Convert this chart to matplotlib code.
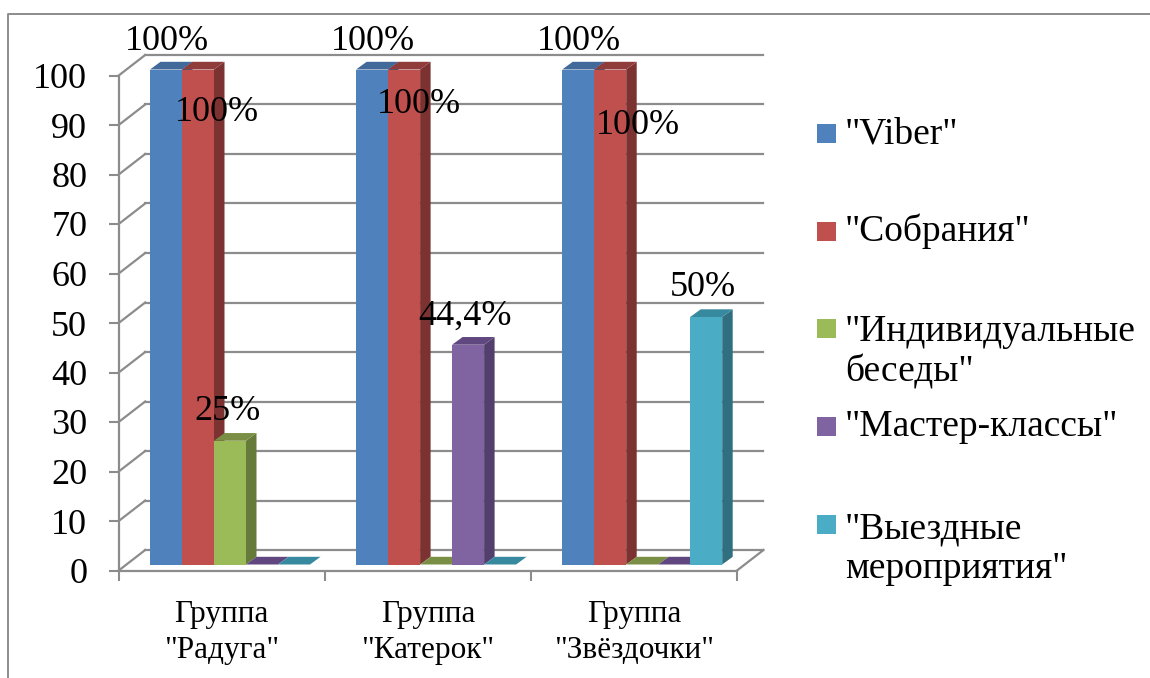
import matplotlib
matplotlib.use("Agg")
import matplotlib.pyplot as plt
from matplotlib.lines import Line2D
from matplotlib.patches import Polygon, Rectangle

plt.rcParams['font.family'] = ['Liberation Serif', 'DejaVu Sans']

# ---- data ----
groups = ['Группа\n"Радуга"', 'Группа\n"Катерок"', 'Группа\n"Звёздочки"']
series_names = ['"Viber"', '"Собрания"', '"Индивидуальные\nбеседы"', '"Мастер-классы"', '"Выездные\nмероприятия"']
viber = [100, 100, 100]
meetings = [100, 100, 100]
talks = [25, 0, 0]
workshops = [0, 44.4, 0]
trips = [0, 0, 50]
series_values = [viber, meetings, talks, workshops, trips]
value_labels = [['100%', '100%', '100%'],
                ['100%', '100%', '100%'],
                ['25%', '', ''],
                ['', '44,4%', ''],
                ['', '', '50%']]
y_ticks = list(range(0, 101, 10))

# ---- style ----
W, H = 1150, 678
front = ['#4F81BD', '#C0504D', '#9BBB59', '#8064A2', '#4BACC6']
side = ['#3A5F8C', '#7B3230', '#667A3A', '#533F6D', '#2F6F80']
top = ['#41699A', '#8F3C3A', '#7A8F45', '#60477F', '#37899F']
grid = '#8C8C8C'
AX_L, AX_R, AX_T, AX_B = 118.7, 737, 75.5, 570.5
BAR0, BAR_W = 150 - AX_L, 32            # px inside each group
BASE_PX = 6                             # gap between front axis and bar base
DEPTH_X, DEPTH_Y = 10.5, 7.7            # bar depth, px
WALL_X, WALL_Y = 26.5, 20.5             # wall depth, px
# label offsets (px from top-centre of each bar), by series then group
label_offsets = [[(1, 28), (1, 28), (1, 28)],
                 [(19, -43), (15, -35), (28, -56)],
                 [(-2, 29), (0, 0), (0, 0)],
                 [(0, 0), (-3, 28), (0, 0)],
                 [(0, 0), (0, 0), (-3, 29)]]
legend_y = [134, 231, 352, 427, 549]
legend_box_y = [133.5, 231.5, 328.5, 426.5, 524.5]

fig = plt.figure(figsize=(W / 100, H / 100), dpi=100)
ax = fig.add_axes([AX_L / W, 1 - AX_B / H, (AX_R - AX_L) / W, (AX_B - AX_T) / H])
ax.set_xlim(0, len(groups))
ax.set_ylim(0, 100)
ux = (AX_R - AX_L) / len(groups)
uy = (AX_B - AX_T) / 100
ax.patch.set_visible(False)
for s in ('top', 'right'):
    ax.spines[s].set_visible(False)
for s in ('left', 'bottom'):
    ax.spines[s].set_color(grid)
    ax.spines[s].set_linewidth(1.6)

ax.set_yticks(y_ticks)
ax.tick_params(axis='y', length=7.2, width=1.5, color=grid, labelsize=26, pad=15.5)
ax.set_xticks(range(len(groups) + 1))
ax.set_xticklabels([])
ax.tick_params(axis='x', which='major', length=7.2, width=1.5, color=grid)
ax.set_xticks([i + 0.5 for i in range(len(groups))], minor=True)
ax.set_xticklabels(groups, minor=True, fontsize=22.5, linespacing=1.32)
ax.tick_params(axis='x', which='minor', length=0, pad=21)

# back wall gridlines and left-wall diagonals
wx, wy = WALL_X / ux, WALL_Y / uy
for t in y_ticks:
    ax.plot([wx, len(groups) + wx], [t + wy, t + wy], color=grid, lw=1.6, clip_on=False, zorder=1)
    ax.plot([0, wx], [t, t + wy], color=grid, lw=1.6, clip_on=False, zorder=1)
ax.plot([len(groups), len(groups) + wx], [0, wy], color=grid, lw=1.6, clip_on=False, zorder=1)

# 3D bars
dx, dy = DEPTH_X / ux, DEPTH_Y / uy
base = BASE_PX / uy
bw = BAR_W / ux
for g in range(len(groups)):
    for i, vals in enumerate(series_values):
        v = vals[g]
        x0 = g + BAR0 / ux + i * bw
        x1 = x0 + bw
        yt = base + v
        z = 3 + g + i * 0.1
        if v > 0:
            ax.add_patch(Rectangle((x0, base), bw, v, fc=front[i], ec='none', zorder=z, clip_on=False))
            ax.add_patch(Polygon([(x1, base), (x1 + dx, base + dy), (x1 + dx, yt + dy), (x1, yt)],
                                 fc=side[i], ec='none', zorder=z, clip_on=False))
        ax.add_patch(Polygon([(x0, yt), (x1, yt), (x1 + dx, yt + dy), (x0 + dx, yt + dy)],
                             fc=top[i], ec='none', zorder=z, clip_on=False))
        lab = value_labels[i][g]
        if lab:
            ox, oy = label_offsets[i][g]
            ax.annotate(lab, xy=((x0 + x1) / 2, yt), xytext=(ox, oy), textcoords='offset pixels',
                        ha='center', va='center', fontsize=26, color='black', zorder=20, annotation_clip=False)

# legend
for i, name in enumerate(series_names):
    fig.add_artist(Rectangle((817 / W, 1 - (legend_box_y[i] + 9.5) / H), 19 / W, 19 / H,
                             transform=fig.transFigure, fc=front[i], ec='none'))
    fig.text(845 / W, 1 - legend_y[i] / H, name, fontsize=27, va='center', ha='left', linespacing=1.2)

# chart frame
fig.add_artist(Line2D([8 / W, 8 / W, 1], [0, 1 - 14 / H, 1 - 14 / H], color='#8C8C8C', lw=1.4,
                      transform=fig.transFigure))
fig.savefig('out.png', dpi=100)
